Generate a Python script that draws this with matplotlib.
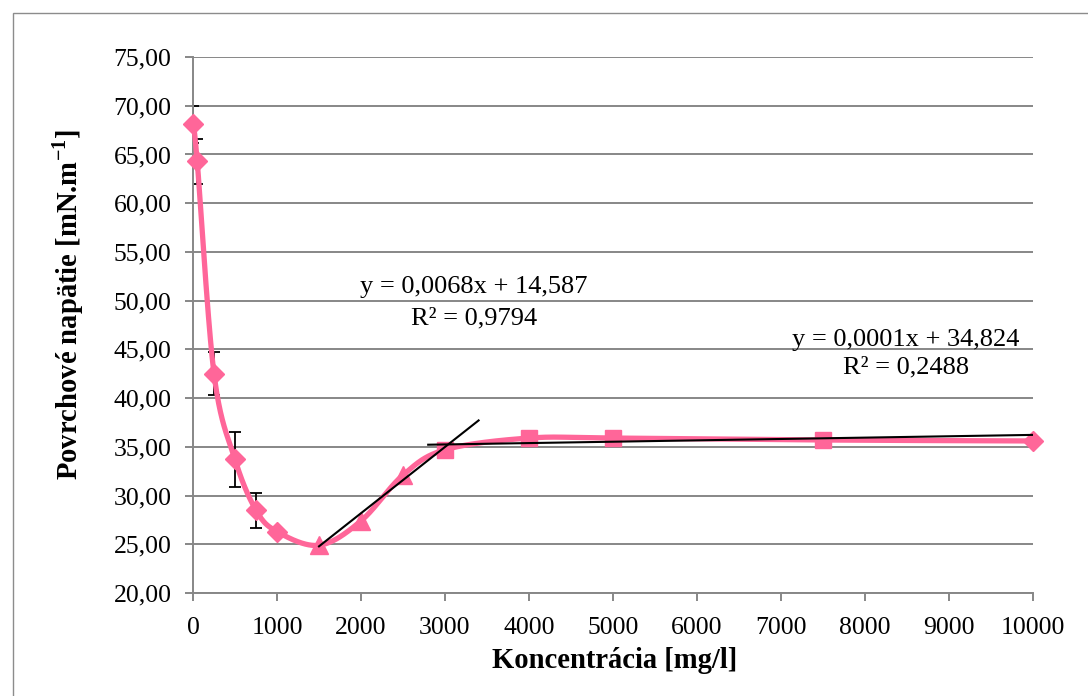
import numpy as np
import matplotlib
matplotlib.use("Agg")
import matplotlib.pyplot as plt
from matplotlib.ticker import FuncFormatter
from matplotlib.patches import Rectangle

# Surface tension vs. concentration
conc_diamond = [0, 50, 250, 500, 750, 1000, 10000]
tension_diamond = [68.1, 64.3, 42.5, 33.7, 28.5, 26.3, 35.6]
err_conc = [0, 50, 250, 500, 750]
err_tension = [68.1, 64.3, 42.5, 33.7, 28.5]
err_size = [1.9, 2.3, 2.2, 2.8, 1.8]

conc_triangle = [1500, 2000, 2500]
tension_triangle = [24.9, 27.4, 32.1]

conc_square = [3000, 4000, 5000, 7500]
tension_square = [34.7, 35.9, 35.9, 35.7]

# Linear trendlines (slope, intercept, x-range)
trend1 = (0.0068, 14.587, 1500, 3400)
trend2 = (0.00014, 34.824, 2800, 10000)
trend1_eq, trend1_r2 = "y = 0,0068x + 14,587", "R² = 0,9794"
trend2_eq, trend2_r2 = "y = 0,0001x + 34,824", "R² = 0,2488"

x_ticks = list(range(0, 10001, 1000))
y_ticks = list(range(20, 76, 5))

PINK = "#FF6699"
GRID = "#878787"
W, H = 1088, 696

plt.rcParams["font.family"] = ["Liberation Serif", "DejaVu Serif"]
plt.rcParams["mathtext.fontset"] = "custom"
plt.rcParams["mathtext.rm"] = "Liberation Serif"
plt.rcParams["mathtext.bf"] = "Liberation Serif:bold"


def smooth_curve(xs, ys, n=60):
    """Catmull-Rom style Bezier smoothing through the points."""
    p = np.column_stack([xs, ys]).astype(float)
    p_ext = np.vstack([p[0], p, p[-1]])
    out = []
    t = np.linspace(0, 1, n)[:, None]
    for i in range(len(p) - 1):
        p0, p1, p2, p3 = p_ext[i], p_ext[i + 1], p_ext[i + 2], p_ext[i + 3]
        c1 = p1 + (p2 - p0) / 6.0
        c2 = p2 - (p3 - p1) / 6.0
        seg = ((1 - t) ** 3) * p1 + 3 * ((1 - t) ** 2) * t * c1 + 3 * (1 - t) * t ** 2 * c2 + t ** 3 * p2
        out.append(seg if i == 0 else seg[1:])
    return np.vstack(out)


fig = plt.figure(figsize=(W / 100, H / 100), dpi=100)
ax = fig.add_axes([193 / W, 1 - 593 / H, 840 / W, 536 / H])

# outer chart frame
fig.patches.append(Rectangle((12.5 / W, -0.05), 1.2, 0.05 + 1 - 13.5 / H,
                             transform=fig.transFigure, fill=False,
                             edgecolor="#8c8c8c", lw=1.0, zorder=0))

all_x = np.array(conc_diamond[:-1] + conc_triangle + conc_square + conc_diamond[-1:])
all_y = np.array(tension_diamond[:-1] + tension_triangle + tension_square + tension_diamond[-1:])
curve = smooth_curve(all_x, all_y)

ax.errorbar(err_conc, err_tension, yerr=err_size, fmt="none", ecolor="black",
            elinewidth=1.3, capsize=4, capthick=1.3, zorder=2)
ax.plot(curve[:, 0], curve[:, 1], color=PINK, lw=3.8, zorder=3,
        solid_capstyle="round", clip_on=False)
ax.plot(conc_diamond, tension_diamond, "D", color=PINK, ms=10, zorder=4, mec=PINK, clip_on=False)
ax.plot(conc_triangle, tension_triangle, "^", color=PINK, ms=13, zorder=4, mec=PINK, clip_on=False)
ax.plot(conc_square, tension_square, "s", color=PINK, ms=12, zorder=4, mec=PINK, clip_on=False)

for slope, icpt, x0, x1 in (trend1, trend2):
    xx = np.array([x0, x1])
    ax.plot(xx, slope * xx + icpt, color="black", lw=1.5, zorder=5)

txt_kw = dict(ha="center", va="center", fontsize=19, zorder=6)
ax.text(3345, 51.4, trend1_eq, **txt_kw)
ax.text(3345, 48.2, trend1_r2, **txt_kw)
ax.text(8488, 45.96, trend2_eq, **txt_kw)
ax.text(8488, 43.1, trend2_r2, **txt_kw)

ax.set_xlim(0, 10000)
ax.set_ylim(20, 75)
ax.set_xticks(x_ticks)
ax.set_yticks(y_ticks)
ax.yaxis.set_major_formatter(FuncFormatter(lambda v, _: f"{v:.2f}".replace(".", ",")))
ax.xaxis.set_major_formatter(FuncFormatter(lambda v, _: f"{int(v)}"))

ax.grid(axis="y", color=GRID, lw=1.4)
ax.set_axisbelow(True)
for side in ("top", "right"):
    ax.spines[side].set_visible(False)
for side in ("left", "bottom"):
    ax.spines[side].set_color(GRID)
    ax.spines[side].set_linewidth(1.4)
ax.tick_params(axis="both", direction="out", length=6, width=1.4, color=GRID,
               labelsize=18.5)
ax.tick_params(axis="y", pad=9.5)
ax.tick_params(axis="x", pad=11)

fig.text(615 / W, 1 - 661 / H, "Koncentrácia [mg/l]", fontsize=20.6,
         fontweight="bold", ha="center", va="center")
fig.text(68 / W, 1 - 305 / H, r"Povrchové napätie [mN.m$^{\mathbf{-1}}$]",
         fontsize=20.6, fontweight="bold", ha="center", va="center", rotation=90)

fig.savefig("out.png", dpi=100)
